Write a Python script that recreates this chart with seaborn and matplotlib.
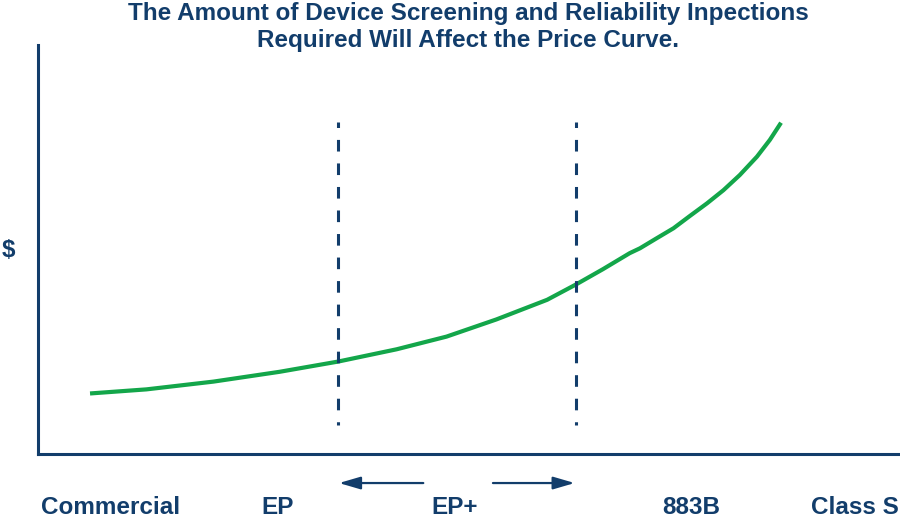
import matplotlib
matplotlib.use("Agg")
import matplotlib.pyplot as plt
import matplotlib.transforms as mtransforms
import seaborn as sns
import pandas as pd

# ---- data ----
screening_level = [6.05, 12.6, 20.4, 28.1, 34.9, 41.7, 47.5, 53.3, 59.2, 62.6, 65.7, 68.8,
                   70.0, 71.9, 73.9, 75.8, 77.8, 79.7, 81.6, 83.6, 85.1, 86.4]
price = [14.8, 15.8, 17.7, 20.1, 22.6, 25.6, 28.7, 32.9, 37.7, 41.5, 45.2, 49.1,
         50.3, 52.7, 55.2, 58.2, 61.3, 64.5, 68.2, 72.7, 76.8, 81.0]
tier_labels = ["Commercial", "EP", "EP+", "883B", "Class S"]
tier_positions = [8.4, 27.9, 48.5, 76.0, 95.0]
boundaries = [34.9, 62.6]
boundary_span = [81.2, 7.1]
arrow_left = [44.8, 35.0]
arrow_right = [52.9, 62.4]
title_text = "The Amount of Device Screening and Reliability Inpections\nRequired Will Affect the Price Curve."
y_label = "$"

NAVY = "#123d6b"
GREEN = "#13a64a"

sns.set_style("white")
plt.rcParams["font.family"] = ["Liberation Sans", "DejaVu Sans"]

fig = plt.figure(figsize=(9, 5.2), dpi=100)
ax = fig.add_axes([38 / 900, 1 - 454 / 520, 860 / 900, 409 / 520])

df = pd.DataFrame({"level": screening_level, "price": price})
sns.lineplot(data=df, x="level", y="price", ax=ax, color=GREEN, linewidth=3.0,
             solid_capstyle="butt", solid_joinstyle="round", sort=False)

for b in boundaries:
    ax.plot([b, b], boundary_span, color=NAVY, linewidth=2.2,
            linestyle=(2.0, (3.8, 3.9)), dash_capstyle="butt")

ax.set_xlim(0, 100)
ax.set_ylim(0, 100)
ax.set_xticks([])
ax.set_yticks([])
ax.set_xlabel("")
ax.set_ylabel("")
for s in ["top", "right"]:
    ax.spines[s].set_visible(False)
for s in ["left", "bottom"]:
    ax.spines[s].set_color(NAVY)
    ax.spines[s].set_linewidth(2.2)

trans = mtransforms.blended_transform_factory(ax.transData, ax.transAxes)
for lab, pos in zip(tier_labels, tier_positions):
    ax.text(pos, -0.1467, lab, transform=trans, ha="center", va="baseline",
            fontsize=17.5, fontweight="bold", color=NAVY, clip_on=False)

for seg in (arrow_left, arrow_right):
    ax.annotate("", xy=(seg[1], -0.071), xytext=(seg[0], -0.071),
                xycoords=trans, textcoords=trans,
                arrowprops=dict(arrowstyle="-|>,head_length=1.3,head_width=0.38",
                                color=NAVY, linewidth=1.6, mutation_scale=10,
                                shrinkA=0, shrinkB=0),
                annotation_clip=False)

fig.text(468 / 900, 1 - 27 / 520, title_text, ha="center", va="center",
         fontsize=17.5, fontweight="bold", color=NAVY, linespacing=1.2)
fig.text(8 / 900, 1 - 250 / 520, y_label, ha="center", va="center",
         fontsize=17.5, fontweight="bold", color=NAVY)

fig.savefig("out.png", dpi=100)
